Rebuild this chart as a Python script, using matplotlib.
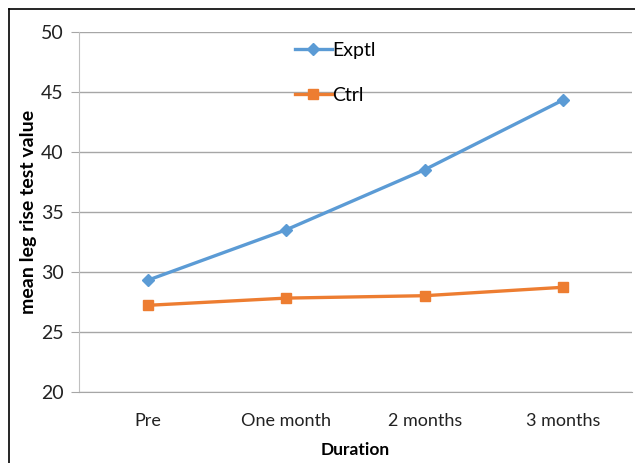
import matplotlib
matplotlib.use("Agg")
import matplotlib.pyplot as plt
from matplotlib.lines import Line2D

# data
durations = ["Pre", "One month", "2 months", "3 months"]
exptl = [29.3, 33.5, 38.5, 44.3]
ctrl = [27.2, 27.8, 28.0, 28.7]
y_ticks = [20, 25, 30, 35, 40, 45, 50]

plt.rcParams["font.family"] = ["Lato", "DejaVu Sans"]

fig = plt.figure(figsize=(6.35, 4.63), dpi=100)
ax = fig.add_axes([79 / 635, 1 - 391.7 / 463, (632 - 79) / 635, (391.7 - 31.7) / 463])

x = list(range(len(durations)))
ax.plot(x, exptl, color="#5B9BD5", lw=2.4, marker="D", ms=6, label="Exptl", zorder=3)
ax.plot(x, ctrl, color="#ED7D31", lw=2.4, marker="s", ms=7, label="Ctrl", zorder=3)

ax.set_xlim(-0.5, len(durations) - 0.5)
ax.set_ylim(20, 50)
ax.set_yticks(y_ticks)
ax.set_xticks(x)
ax.set_xticklabels(durations)
ax.yaxis.grid(True, color="#a6a6a6", lw=1.0)
ax.set_axisbelow(True)

for side in ("top", "right"):
    ax.spines[side].set_visible(False)
ax.spines["left"].set_color("#c0c0c0")
ax.spines["bottom"].set_color("#a6a6a6")
ax.tick_params(axis="y", length=6, colors="#a6a6a6", labelcolor="#222222",
               labelsize=14, pad=5)
ax.tick_params(axis="x", length=0, labelsize=13, pad=15, labelcolor="#222222")

ax.set_xlabel("Duration", fontsize=12.5, fontweight="bold", labelpad=10)
ax.set_ylabel("mean leg rise test value", fontsize=14, fontweight="bold", labelpad=3)

leg = ax.legend(loc="upper left", bbox_to_anchor=(0.359, 1.02), frameon=False,
                fontsize=14, handlelength=1.9, handletextpad=0.0, labelspacing=1.45)

# chart border (only left and top edges inside the image)
fig.add_artist(Line2D([9 / 635, 9 / 635], [0, 1 - 9 / 463], color="black", lw=1.2,
                      transform=fig.transFigure))
fig.add_artist(Line2D([9 / 635, 1], [1 - 9 / 463, 1 - 9 / 463], color="black", lw=1.2,
                      transform=fig.transFigure))

fig.savefig("out.png", dpi=100)
